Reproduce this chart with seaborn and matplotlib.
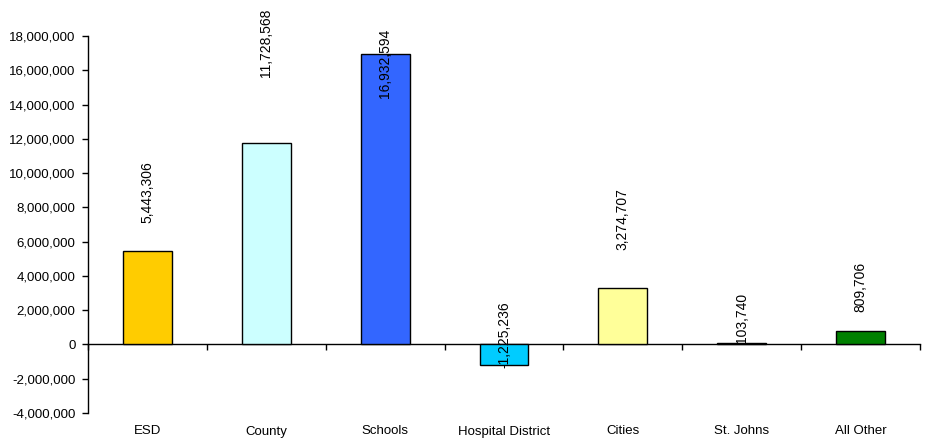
import matplotlib
matplotlib.use("Agg")
import matplotlib.pyplot as plt
import matplotlib.ticker as mticker
import seaborn as sns
import pandas as pd

categories = ["ESD", "County", "Schools", "Hospital District", "Cities", "St. Johns", "All Other"]
values = [5443306, 11728568, 16932594, -1225236, 3274707, 103740, 809706]
value_labels = ["5,443,306", "11,728,568", "16,932,594", "-1,225,236", "3,274,707", "103,740", "809,706"]
colors = ["#FFCC00", "#CCFFFF", "#3366FF", "#00CCFF", "#FFFF99", "#008000", "#008000"]
# vertical anchor (bottom of rotated label) for each data label, in data units
label_anchor = [7.09e6, 15.61e6, 14.39e6, -1.37e6, 5.51e6, 0.09e6, 1.9e6]

sns.set_style("white")
plt.rcParams["font.family"] = ["Liberation Sans", "DejaVu Sans"]
plt.rcParams["text.color"] = "black"
plt.rcParams["xtick.color"] = "black"
plt.rcParams["ytick.color"] = "black"

df = pd.DataFrame({"cat": categories, "val": values})

fig = plt.figure(figsize=(9.29, 4.41), dpi=100)
ax = fig.add_axes([88 / 929, 1 - 413 / 441, (920 - 88) / 929, (413 - 36) / 441])

sns.barplot(data=df, x="cat", y="val", hue="cat", palette=colors, legend=False,
            width=0.41, edgecolor="black", linewidth=1, ax=ax, saturation=1)

ax.set_ylim(-4e6, 18e6)
ax.set_xlim(-0.5, len(categories) - 0.5)
ax.yaxis.set_major_locator(mticker.MultipleLocator(2e6))
ax.yaxis.set_major_formatter(mticker.FuncFormatter(lambda v, p: f"{v:,.0f}"))
ax.set_xlabel("")
ax.set_ylabel("")

for s in ["top", "right", "bottom"]:
    ax.spines[s].set_visible(False)
ax.spines["left"].set_color("black")
ax.spines["left"].set_linewidth(1)

ax.tick_params(axis="y", which="major", direction="out", length=4, width=1,
               color="black", labelcolor="black", pad=5, labelsize=9.5, left=True)
ax.tick_params(axis="x", length=0, pad=9, labelsize=9.5, labelcolor="black")

# zero axis line with category boundary ticks
sec = ax.secondary_xaxis(4e6 / 22e6)
sec.set_xticks([i - 0.5 for i in range(len(categories) + 1)])
sec.set_xticklabels([])
sec.tick_params(direction="out", length=4, width=1, color="black")
sec.spines["bottom"].set_color("black")
sec.spines["bottom"].set_linewidth(1)

for i, (lab, yb) in enumerate(zip(value_labels, label_anchor)):
    ax.text(i, yb, lab, rotation=90, ha="center", va="bottom",
            fontsize=10, color="black")

fig.savefig("out.png", dpi=100)
